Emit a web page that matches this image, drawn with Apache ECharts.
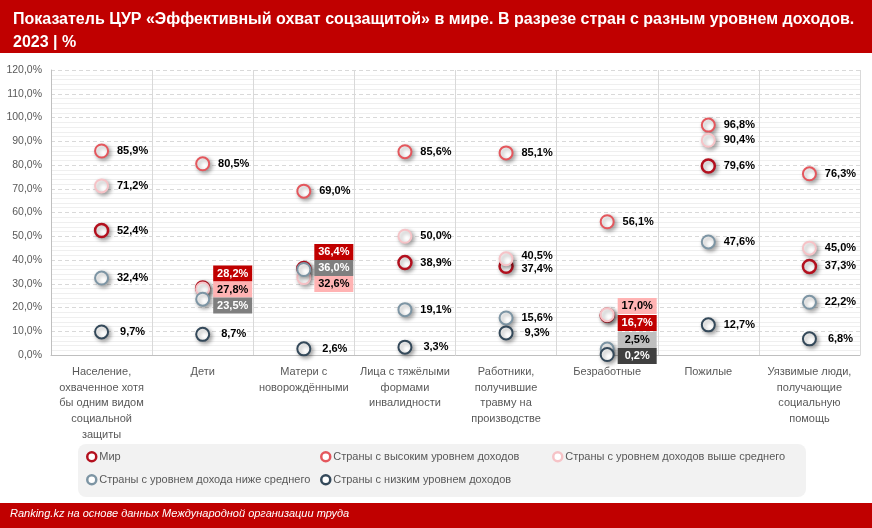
<!DOCTYPE html>
<html>
<head>
<meta charset="utf-8">
<script src="https://cdn.jsdelivr.net/npm/echarts@6/dist/echarts.min.js"></script>
<style>html,body{margin:0;padding:0;background:#fff}#c{width:872px;height:528px}</style>
</head>
<body>
<div id="c"></div>
<script>
const categories = [
  'Население,\nохваченное хотя\nбы одним видом\nсоциальной\nзащиты',
  'Дети',
  'Матери с\nноворождёнными',
  'Лица с тяжёлыми\nформами\nинвалидности',
  'Работники,\nполучившие\nтравму на\nпроизводстве',
  'Безработные',
  'Пожилые',
  'Уязвимые люди,\nполучающие\nсоциальную\nпомощь'
];
const seriesNames = [
  'Мир',
  'Страны с высоким уровнем доходов',
  'Страны с уровнем доходов выше среднего',
  'Страны с уровнем дохода ниже среднего',
  'Страны с низким уровнем доходов'
];
const world       = [52.4, 28.2, 36.4, 38.9, 37.4, 16.7, 79.6, 37.3];
const highIncome  = [85.9, 80.5, 69.0, 85.6, 85.1, 56.1, 96.8, 76.3];
const upperMiddle = [71.2, 27.8, 32.6, 50.0, 40.5, 17.0, 90.4, 45.0];
const lowerMiddle = [32.4, 23.5, 36.0, 19.1, 15.6, 2.5, 47.6, 22.2];
const lowIncome   = [9.7, 8.7, 2.6, 3.3, 9.3, 0.2, 12.7, 6.8];
const yTicks = [0, 120, 10];

const values = [world, highIncome, upperMiddle, lowerMiddle, lowIncome];
const colors = ['#b3101e', '#e4575d', '#f6c3c7', '#7d95a4', '#34495a'];

// label styling overrides (series index -> category index -> style)
const RED = {bg:'#c00000', color:'#fff'};
const PINK = {bg:'#ffb3b3', color:'#000'};
const GREY = {bg:'#7f7f7f', color:'#fff'};
const LGREY = {bg:'#bfbfbf', color:'#000'};
const DARK = {bg:'#404040', color:'#fff'};
const labelOverrides = {
  0: {1: Object.assign({dy:-14.5}, RED), 2: Object.assign({dy:-16.5}, RED), 5: Object.assign({dy:7.7}, RED), 4: {dy:3}},
  2: {1: Object.assign({dy:0.5}, PINK), 2: Object.assign({dy:6.4}, PINK), 5: Object.assign({dy:-8.6}, PINK), 4: {dy:-3}},
  3: {1: Object.assign({dy:6.3}, GREY), 2: Object.assign({dy:-1.5}, GREY), 5: Object.assign({dy:-9}, LGREY)},
  4: {5: Object.assign({dy:1.5}, DARK)}
};

const fmt = v => v.toFixed(1).replace('.', ',') + '%';

function buildData(si) {
  return values[si].map((v, ci) => {
    const o = (labelOverrides[si] || {})[ci];
    if (!o) return [ci, v];
    const label = {offset: [o.bg ? 30 : 31, o.dy || 0]};
    if (o.bg) {
      Object.assign(label, {
        backgroundColor: o.bg, color: o.color, padding: [1, 4, 1, 4],
        width: 31, align: 'center', lineHeight: 14
      });
    }
    return {value: [ci, v], label};
  });
}

const series = seriesNames.map((name, si) => ({
  name,
  type: 'scatter',
  data: buildData(si),
  symbol: 'circle',
  symbolSize: 13,
  z: 2 + si,
  itemStyle: {
    opacity: 1,
    color: '#ffffff',
    borderColor: colors[si],
    borderWidth: si === 0 ? 2.5 : 2,
    shadowBlur: 4,
    shadowColor: 'rgba(0,0,0,0.35)',
    shadowOffsetX: 2,
    shadowOffsetY: 2
  },
  label: {
    show: true,
    position: 'inside',
    offset: [31, 0],
    formatter: p => fmt(p.value[1]),
    fontFamily: 'Liberation Sans, Arial, sans-serif',
    fontWeight: 'bold',
    fontSize: 11,
    color: '#000'
  },
  emphasis: {disabled: true}
}));

const legendPos = [[86, 451], [320, 451], [552, 451], [86, 474], [320, 474]];
const legends = seriesNames.map((name, si) => ({
  left: legendPos[si][0], top: legendPos[si][1],
  padding: 0, itemWidth: 9, itemHeight: 9, itemGap: 4,
  selectedMode: false,
  icon: 'circle',
  data: [{name, itemStyle: {color: '#fff', borderColor: colors[si], borderWidth: 2.5, shadowBlur: 0, shadowOffsetX: 0, shadowOffsetY: 0, opacity: 1}}],
  textStyle: {color: '#595959', fontSize: 11, fontFamily: 'Liberation Sans, Arial, sans-serif', padding: [0, 0, 0, -2]}
}));

const chart = echarts.init(document.getElementById('c'), null, {renderer: 'canvas'});
chart.setOption({
  animation: false,
  backgroundColor: '#ffffff',
  title: {
    text: 'Показатель ЦУР «Эффективный охват соцзащитой» в мире. В разрезе стран с разным уровнем доходов.\n2023 | %',
    left: 8, top: 3,
    textStyle: {color: '#fff', fontSize: 16, fontWeight: 'bold', fontFamily: 'Liberation Sans, Arial, sans-serif', lineHeight: 23}
  },
  graphic: [
    {type: 'rect', z: -10, shape: {x: 0, y: 0, width: 872, height: 53}, style: {fill: '#c00000'}},
    {type: 'rect', z: -10, shape: {x: 78, y: 444, width: 728, height: 53, r: 8}, style: {fill: '#f2f2f2'}},
    {type: 'rect', z: -10, shape: {x: 0, y: 503, width: 872, height: 25}, style: {fill: '#c00000'}},
    {type: 'text', left: 10, top: 508, style: {text: 'Ranking.kz на основе данных Международной организации труда', fill: '#fff', font: 'italic 11px "Liberation Sans", Arial, sans-serif'}}
  ],
  legend: legends,
  grid: {left: 51, right: 12, top: 70, bottom: 173, containLabel: false},
  xAxis: {
    type: 'category',
    data: categories,
    boundaryGap: true,
    axisLine: {show: true, lineStyle: {color: '#bfbfbf', width: 1}},
    axisTick: {show: false},
    axisLabel: {interval: 0, color: '#595959', fontSize: 11, lineHeight: 15.7, margin: 9, fontFamily: 'Liberation Sans, Arial, sans-serif'},
    splitLine: {show: true, interval: 0, lineStyle: {color: '#d9d9d9', width: 1}}
  },
  yAxis: {
    type: 'value',
    min: yTicks[0], max: yTicks[1], interval: yTicks[2],
    axisLine: {show: true, lineStyle: {color: '#bfbfbf'}},
    axisTick: {show: false},
    axisLabel: {color: '#595959', fontSize: 10.5, margin: 9, formatter: v => fmt(v), fontFamily: 'Liberation Sans, Arial, sans-serif'},
    splitLine: {show: true, lineStyle: {color: '#d9d9d9', type: [4, 3], width: 1}},
    minorTick: {show: false, splitNumber: 5},
    minorSplitLine: {show: true, lineStyle: {color: '#efefef', width: 1}}
  },
  series
});
</script>
</body>
</html>
